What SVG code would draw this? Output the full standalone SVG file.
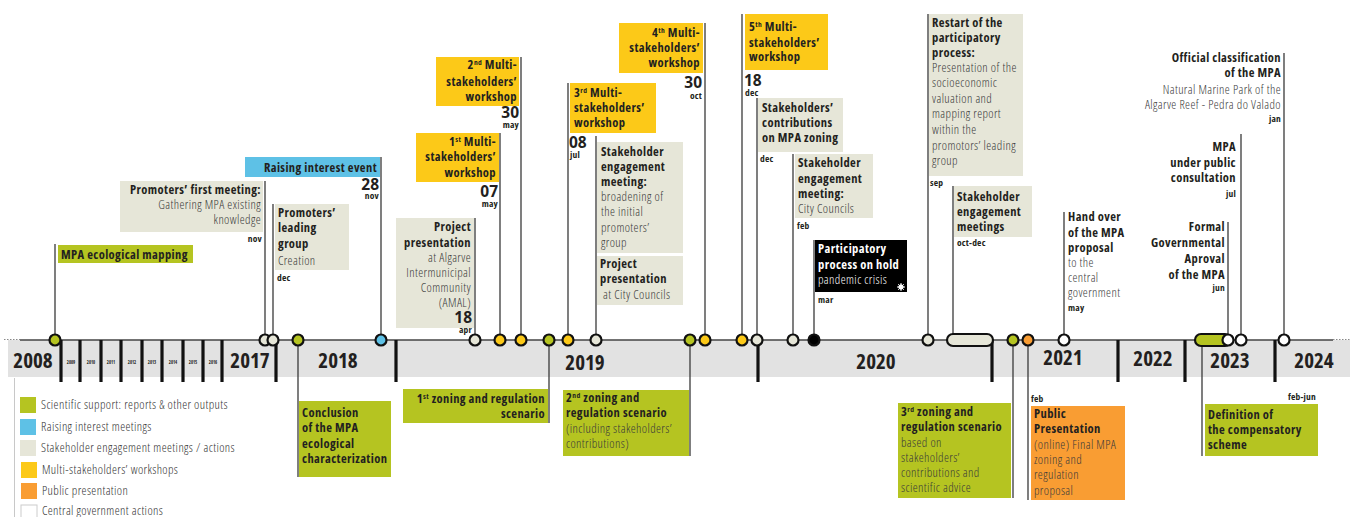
<svg xmlns="http://www.w3.org/2000/svg" width="1350" height="517" viewBox="0 0 1350 517">
<style>
text{font-family:'Open Sans','Noto Sans','DejaVu Sans',sans-serif;font-stretch:condensed}
.b{font-weight:700;font-size:12.5px;letter-spacing:0.4px;fill:#231f20}
.r{font-weight:300;font-size:12.5px;letter-spacing:0.4px;fill:#3a3a3a}
.w{fill:#fff}
.m{font-weight:700;font-size:9.5px;letter-spacing:0.2px;fill:#231f20}
.n{font-weight:700;font-size:15.5px;fill:#231f20;font-stretch:normal}
.y{font-weight:700;font-size:21px;fill:#231f20;text-anchor:middle}
.ys{font-weight:700;font-size:4.5px;fill:#231f20;text-anchor:middle}
.e{text-anchor:end}
.lg{font-weight:300;font-size:12.5px;letter-spacing:0.4px;fill:#333}
.stem{stroke:#3a3a3a;stroke-width:1.3;fill:none}
.tick{stroke:#111;stroke-width:3.2}
.c{stroke:#111;stroke-width:2.2}
.gr{fill:#b5c421}.bl{fill:#5ec1e6}.be{fill:#e6e6d8}.ye{fill:#fcc918}.or{fill:#f99d33}.bk{fill:#000}.wh{fill:#fff}
</style>
<rect width="1350" height="517" fill="#fff"/>
<g id="axis">
<rect x="8" y="340" width="1342" height="37" fill="#e2e2e2"/>
<line x1="20" y1="340" x2="1333" y2="340" stroke="#444" stroke-width="1.4"/>
<line x1="4" y1="339.5" x2="20" y2="339.5" stroke="#888" stroke-width="1" stroke-dasharray="1.5,1.5"/>
<line x1="1333" y1="339.5" x2="1350" y2="339.5" stroke="#888" stroke-width="1" stroke-dasharray="1.5,1.5"/>
<g class="tick">
<line x1="61" y1="340" x2="61" y2="382"/><line x1="80" y1="340" x2="80" y2="382"/><line x1="101" y1="340" x2="101" y2="382"/><line x1="121" y1="340" x2="121" y2="382"/><line x1="142" y1="340" x2="142" y2="382"/><line x1="162" y1="340" x2="162" y2="382"/><line x1="183" y1="340" x2="183" y2="382"/><line x1="203" y1="340" x2="203" y2="382"/><line x1="222" y1="340" x2="222" y2="382"/><line x1="276" y1="340" x2="276" y2="382"/><line x1="396" y1="340" x2="396" y2="382"/><line x1="758" y1="340" x2="758" y2="382"/><line x1="992" y1="340" x2="992" y2="382"/><line x1="1118" y1="340" x2="1118" y2="382"/><line x1="1185" y1="340" x2="1185" y2="382"/><line x1="1275" y1="340" x2="1275" y2="382"/>
</g>
<text class="y" x="33" y="368">2008</text>
<text class="ys" x="71" y="364">2009</text><text class="ys" x="91" y="364">2010</text><text class="ys" x="111" y="364">2011</text><text class="ys" x="132" y="364">2012</text><text class="ys" x="152" y="364">2013</text><text class="ys" x="173" y="364">2014</text><text class="ys" x="193" y="364">2015</text><text class="ys" x="213" y="364">2016</text>
<text class="y" x="250" y="368">2017</text>
<text class="y" x="338" y="368">2018</text>
<text class="y" x="585" y="370">2019</text>
<text class="y" x="876" y="369">2020</text>
<text class="y" x="1063" y="365">2021</text>
<text class="y" x="1153" y="366">2022</text>
<text class="y" x="1230" y="368">2023</text>
<text class="y" x="1314" y="368">2024</text>
</g>
<g id="connectors" class="stem">
<line x1="55" y1="244" x2="55" y2="340"/>
<line x1="265" y1="181" x2="265" y2="340"/>
<line x1="273" y1="204" x2="273" y2="340"/>
<line x1="381" y1="157" x2="381" y2="340"/>
<line x1="298" y1="340" x2="298" y2="477"/>
<line x1="475" y1="218" x2="475" y2="340"/>
<line x1="500" y1="133" x2="500" y2="340"/>
<line x1="521" y1="57" x2="521" y2="340"/>
<line x1="549" y1="340" x2="549" y2="423"/>
<line x1="568" y1="83" x2="568" y2="340"/>
<line x1="596" y1="136" x2="596" y2="340"/>
<line x1="690" y1="340" x2="690" y2="456"/>
<line x1="705" y1="23" x2="705" y2="340"/>
<line x1="742" y1="14" x2="742" y2="340"/>
<line x1="757" y1="98" x2="757" y2="340"/>
<line x1="793" y1="154" x2="793" y2="340"/>
<line x1="814" y1="240" x2="814" y2="340"/>
<line x1="928" y1="14" x2="928" y2="340"/>
<line x1="953" y1="186" x2="953" y2="334"/>
<line x1="1013" y1="340" x2="1013" y2="498"/>
<line x1="1028" y1="340" x2="1028" y2="500"/>
<line x1="1064" y1="212" x2="1064" y2="340"/>
<line x1="1202" y1="340" x2="1202" y2="456"/>
<line x1="1228" y1="222" x2="1228" y2="340"/>
<line x1="1241" y1="134" x2="1241" y2="340"/>
<line x1="1284" y1="53" x2="1284" y2="340"/>
</g>
<g id="n-mapping">
<rect class="gr" x="58" y="245" width="135" height="18"/>
<text class="b" x="61" y="258.5">MPA ecological mapping</text>
<circle class="c gr" cx="55" cy="340" r="5.5"/>
</g>
<g id="n-first-meeting">
<rect class="be" x="120" y="181" width="143" height="51"/>
<text class="b e" x="261" y="194">Promoters’ first meeting:</text>
<text class="r e" x="261" y="209">Gathering MPA existing</text>
<text class="r e" x="261" y="224">knowledge</text>
<text class="m e" x="262" y="242">nov</text>
<circle class="c be" cx="265" cy="340" r="5.5"/>
</g>
<g id="n-leading-group">
<rect class="be" x="275" y="204" width="74" height="66"/>
<text class="b" x="278" y="217">Promoters’</text>
<text class="b" x="278" y="232">leading</text>
<text class="b" x="278" y="248">group</text>
<text class="r" x="278" y="265">Creation</text>
<text class="m" x="277" y="281">dec</text>
<circle class="c be" cx="273" cy="340" r="5.5"/>
</g>
<g id="n-raising">
<rect class="bl" x="245" y="157" width="135" height="20"/>
<text class="b e" x="377" y="171.5">Raising interest event</text>
<text class="n e" x="379" y="190">28</text>
<text class="m e" x="379" y="199">nov</text>
<circle class="c bl" cx="381" cy="340" r="5.5"/>
</g>
<g id="n-conclusion">
<rect class="gr" x="299" y="401" width="92" height="76"/>
<text class="b" x="302" y="417">Conclusion</text>
<text class="b" x="302" y="432">of the MPA</text>
<text class="b" x="302" y="448">ecological</text>
<text class="b" x="302" y="463">characterization</text>
<circle class="c gr" cx="298" cy="340" r="5.5"/>
</g>
<g id="n-project-amal">
<rect class="be" x="396" y="218" width="78" height="110"/>
<text class="b e" x="471" y="231">Project</text>
<text class="b e" x="471" y="247">presentation</text>
<text class="r e" x="471" y="262">at Algarve</text>
<text class="r e" x="471" y="277">Intermunicipal</text>
<text class="r e" x="471" y="292">Community</text>
<text class="r e" x="471" y="307">(AMAL)</text>
<text class="n e" x="472" y="323">18</text>
<text class="m e" x="472" y="333">apr</text>
<circle class="c be" cx="475" cy="340" r="5.5"/>
</g>
<g id="n-workshop1">
<rect class="ye" x="416" y="133" width="83" height="49"/>
<text class="b e" x="496" y="146">1<tspan font-size="7.5" dy="-4">st</tspan><tspan dy="4"> Multi-</tspan></text>
<text class="b e" x="496" y="161">stakeholders’</text>
<text class="b e" x="496" y="177">workshop</text>
<text class="n e" x="498" y="197">07</text>
<text class="m e" x="498" y="207">may</text>
<circle class="c ye" cx="500" cy="340" r="5.5"/>
</g>
<g id="n-workshop2">
<rect class="ye" x="436" y="57" width="83" height="49"/>
<text class="b e" x="517" y="69">2<tspan font-size="7.5" dy="-4">nd</tspan><tspan dy="4"> Multi-</tspan></text>
<text class="b e" x="517" y="86">stakeholders’</text>
<text class="b e" x="517" y="101">workshop</text>
<text class="n e" x="519" y="118">30</text>
<text class="m e" x="519" y="128">may</text>
<circle class="c ye" cx="521" cy="340" r="5.5"/>
</g>
<g id="n-zoning1">
<rect class="gr" x="403" y="389" width="145" height="34"/>
<text class="b e" x="545" y="403">1<tspan font-size="7.5" dy="-4">st</tspan><tspan dy="4"> zoning and regulation</tspan></text>
<text class="b e" x="545" y="418">scenario</text>
<circle class="c gr" cx="549" cy="340" r="5.5"/>
</g>
<g id="n-workshop3">
<rect class="ye" x="570" y="83" width="86" height="50"/>
<text class="b" x="574" y="97">3<tspan font-size="7.5" dy="-4">rd</tspan><tspan dy="4"> Multi-</tspan></text>
<text class="b" x="574" y="112">stakeholders’</text>
<text class="b" x="574" y="127">workshop</text>
<text class="n" x="569" y="148">08</text>
<text class="m" x="570" y="158">jul</text>
<circle class="c ye" cx="568" cy="340" r="5.5"/>
</g>
<g id="n-engagement-broadening">
<rect class="be" x="597" y="142" width="86" height="111"/>
<text class="b" x="601" y="156">Stakeholder</text>
<text class="b" x="601" y="171">engagement</text>
<text class="b" x="601" y="186">meeting:</text>
<text class="r" x="601" y="201">broadening of</text>
<text class="r" x="601" y="216">the initial</text>
<text class="r" x="601" y="232">promoters’</text>
<text class="r" x="601" y="247">group</text>
<rect class="be" x="597" y="256" width="86" height="49"/>
<text class="b" x="600" y="268">Project</text>
<text class="b" x="600" y="283">presentation</text>
<text class="r" x="603" y="299">at City Councils</text>
<circle class="c be" cx="596" cy="340" r="5.5"/>
</g>
<g id="n-zoning2">
<rect class="gr" x="563" y="390" width="126" height="66"/>
<text class="b" x="566" y="402">2<tspan font-size="7.5" dy="-4">nd</tspan><tspan dy="4"> zoning and</tspan></text>
<text class="b" x="566" y="417">regulation scenario</text>
<text class="r" x="566" y="433">(including stakeholders’</text>
<text class="r" x="566" y="448">contributions)</text>
<circle class="c gr" cx="690" cy="340" r="5.5"/>
</g>
<g id="n-workshop4">
<rect class="ye" x="619" y="23" width="84" height="50"/>
<text class="b e" x="700" y="37">4<tspan font-size="7.5" dy="-4">th</tspan><tspan dy="4"> Multi-</tspan></text>
<text class="b e" x="700" y="52">stakeholders’</text>
<text class="b e" x="700" y="67">workshop</text>
<text class="n e" x="702" y="88">30</text>
<text class="m e" x="702" y="99">oct</text>
<circle class="c ye" cx="705" cy="340" r="5.5"/>
</g>
<g id="n-workshop5">
<rect class="ye" x="745" y="14" width="83" height="56"/>
<text class="b" x="749" y="31">5<tspan font-size="7.5" dy="-4">th</tspan><tspan dy="4"> Multi-</tspan></text>
<text class="b" x="749" y="47">stakeholders’</text>
<text class="b" x="749" y="61">workshop</text>
<text class="n" x="744" y="86">18</text>
<text class="m" x="745" y="96">dec</text>
<circle class="c ye" cx="742" cy="340" r="5.5"/>
</g>
<g id="n-contributions">
<rect class="be" x="758" y="98" width="85" height="54"/>
<text class="b" x="762" y="112">Stakeholders’</text>
<text class="b" x="762" y="127">contributions</text>
<text class="b" x="762" y="142">on MPA zoning</text>
<text class="m" x="760" y="162">dec</text>
<circle class="c be" cx="757" cy="340" r="5.5"/>
</g>
<g id="n-city-councils">
<rect class="be" x="795" y="154" width="78" height="64"/>
<text class="b" x="798" y="167">Stakeholder</text>
<text class="b" x="798" y="183">engagement</text>
<text class="b" x="798" y="198">meeting:</text>
<text class="r" x="798" y="213">City Councils</text>
<text class="m" x="797" y="229">feb</text>
<circle class="c be" cx="793" cy="340" r="5.5"/>
</g>
<g id="n-on-hold">
<rect class="bk" x="815" y="240" width="92" height="52"/>
<text class="b w" x="818" y="253">Participatory</text>
<text class="b w" x="818" y="269">process on hold</text>
<text class="r w" x="818" y="284">pandemic crisis</text>
<g stroke="#fff" stroke-width="1"><circle cx="901" cy="287" r="2.2" fill="#fff"/><line x1="897" y1="287" x2="905" y2="287"/><line x1="901" y1="283" x2="901" y2="291"/><line x1="898.2" y1="284.2" x2="903.8" y2="289.8"/><line x1="903.8" y1="284.2" x2="898.2" y2="289.8"/></g>
<text class="m" x="818" y="303">mar</text>
<circle class="c bk" cx="814" cy="340" r="5.5"/>
</g>
<g id="n-restart">
<rect class="be" x="929" y="14" width="94" height="162"/>
<text class="b" x="932" y="27">Restart of the</text>
<text class="b" x="932" y="42">participatory</text>
<text class="b" x="932" y="57">process:</text>
<text class="r" x="932" y="72">Presentation of the</text>
<text class="r" x="932" y="87">socioeconomic</text>
<text class="r" x="932" y="103">valuation and</text>
<text class="r" x="932" y="118">mapping report</text>
<text class="r" x="932" y="134">within the</text>
<text class="r" x="932" y="150">promotors’ leading</text>
<text class="r" x="932" y="165">group</text>
<text class="m" x="930" y="186">sep</text>
<circle class="c be" cx="928" cy="340" r="5.5"/>
</g>
<g id="n-engagement-meetings">
<rect class="be" x="954" y="186" width="78" height="51"/>
<text class="b" x="957" y="201">Stakeholder</text>
<text class="b" x="957" y="216">engagement</text>
<text class="b" x="957" y="231">meetings</text>
<text class="m" x="957" y="246">oct-dec</text>
<rect class="c be" x="947" y="334" width="46" height="12" rx="6"/>
</g>
<g id="n-zoning3">
<rect class="gr" x="898" y="403" width="113" height="95"/>
<text class="b" x="901" y="416">3<tspan font-size="7.5" dy="-4">rd</tspan><tspan dy="4"> zoning and</tspan></text>
<text class="b" x="901" y="431">regulation scenario</text>
<text class="r" x="901" y="447">based on</text>
<text class="r" x="901" y="462">stakeholders’</text>
<text class="r" x="901" y="477">contributions and</text>
<text class="r" x="901" y="492">scientific advice</text>
<circle class="c gr" cx="1013" cy="340" r="5.5"/>
</g>
<g id="n-public">
<rect class="or" x="1031" y="406" width="94" height="94"/>
<text class="b" x="1034" y="418">Public</text>
<text class="b" x="1034" y="433">Presentation</text>
<text class="r" x="1034" y="449">(online) Final MPA</text>
<text class="r" x="1034" y="464">zoning and</text>
<text class="r" x="1034" y="479">regulation</text>
<text class="r" x="1034" y="495">proposal</text>
<text class="m" x="1031" y="402">feb</text>
<circle class="c or" cx="1028" cy="340" r="5.5"/>
</g>
<g id="n-hand-over">
<text class="b" x="1068" y="221">Hand over</text>
<text class="b" x="1068" y="237">of the MPA</text>
<text class="b" x="1068" y="252">proposal</text>
<text class="r" x="1068" y="267">to the</text>
<text class="r" x="1068" y="282">central</text>
<text class="r" x="1068" y="297">government</text>
<text class="m" x="1068" y="311">may</text>
<circle class="c wh" cx="1064" cy="340" r="5.5"/>
</g>
<g id="n-compensatory">
<rect class="gr" x="1205" y="404" width="113" height="52"/>
<text class="b" x="1208" y="419">Definition of</text>
<text class="b" x="1208" y="434">the compensatory</text>
<text class="b" x="1208" y="449">scheme</text>
<text class="m e" x="1316" y="400">feb-jun</text>
<rect class="c gr" x="1195" y="334" width="36" height="12" rx="6"/>
</g>
<g id="n-approval">
<text class="b e" x="1225" y="231">Formal</text>
<text class="b e" x="1225" y="247">Governmental</text>
<text class="b e" x="1225" y="263">Aproval</text>
<text class="b e" x="1225" y="279">of the MPA</text>
<text class="m e" x="1225" y="291">jun</text>
<circle class="c wh" cx="1228" cy="340" r="5.5"/>
</g>
<g id="n-consultation">
<text class="b e" x="1236" y="151">MPA</text>
<text class="b e" x="1236" y="167">under public</text>
<text class="b e" x="1236" y="182">consultation</text>
<text class="m e" x="1236" y="197">jul</text>
<circle class="c wh" cx="1241" cy="340" r="5.5"/>
</g>
<g id="n-classification">
<text class="b e" x="1281" y="62">Official classification</text>
<text class="b e" x="1281" y="77">of the  MPA</text>
<text class="r e" x="1281" y="94">Natural Marine Park of the</text>
<text class="r e" x="1281" y="109">Algarve Reef - Pedra do Valado</text>
<text class="m e" x="1281" y="122">jan</text>
<circle class="c wh" cx="1284" cy="340" r="5.5"/>
</g>
<g id="legend">
<line x1="14.5" y1="378" x2="14.5" y2="517" stroke="#c8c8c8" stroke-width="1"/>
<rect class="gr" x="20" y="397" width="16" height="16"/>
<text class="lg" x="41" y="409">Scientific support: reports &amp; other outputs</text>
<rect class="bl" x="20" y="419" width="16" height="16"/>
<text class="lg" x="41" y="431">Raising interest meetings</text>
<rect class="be" x="20" y="440" width="16" height="16"/>
<text class="lg" x="41" y="452">Stakeholder engagement meetings / actions</text>
<rect class="ye" x="21" y="462" width="16" height="16"/>
<text class="lg" x="42" y="474">Multi-stakeholders’ workshops</text>
<rect class="or" x="21" y="483" width="16" height="16"/>
<text class="lg" x="42" y="495">Public presentation</text>
<rect x="21" y="505" width="16" height="16" fill="#fff" stroke="#ccc" stroke-width="1"/>
<text class="lg" x="42" y="515">Central government actions</text>
</g>
</svg>
